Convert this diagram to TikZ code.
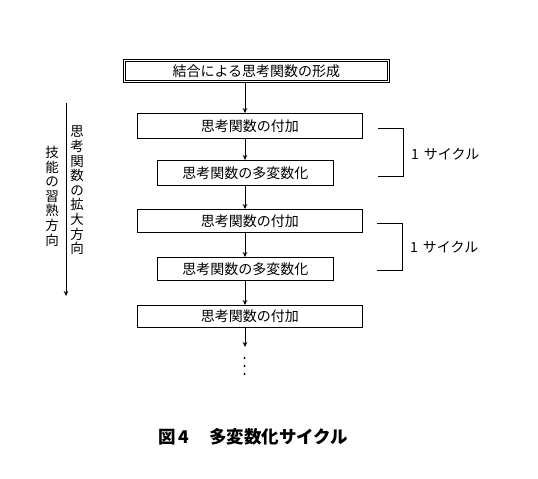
\documentclass[tikz,border=0pt]{standalone}
\usepackage{fontspec}
\setmainfont{Noto Sans CJK JP}
\newfontfamily\capfont{Noto Sans CJK JP}
\usetikzlibrary{arrows.meta}
\begin{document}
\begin{tikzpicture}[x=1pt,y=-1pt,
  box/.style={draw,line width=0.6pt,inner sep=0pt,anchor=north west,font=\fontsize{14}{15}\selectfont},
  arr/.style={line width=0.6pt,-{Stealth[length=5pt,width=4.5pt]}},
  brk/.style={line width=0.6pt},
  lbl/.style={anchor=west,font=\fontsize{14}{15}\selectfont,inner sep=0pt},
  vtext/.style={align=center,inner sep=0pt,font=\fontsize{13.5}{14.6}\selectfont}]
\useasboundingbox (0,0) rectangle (538,479);
% top double box
\draw[line width=0.6pt] (123,59) rectangle (389,82);
\node[box,minimum width=262pt,minimum height=19pt] (top) at (125,61) {結合による思考関数の形成};
% boxes
\node[box,minimum width=225pt,minimum height=25pt] (b1) at (137,113) {思考関数の付加};
\node[box,minimum width=176pt,minimum height=25pt] (b2) at (157,160) {思考関数の多変数化};
\node[box,minimum width=225pt,minimum height=23pt] (b3) at (137,209) {思考関数の付加};
\node[box,minimum width=176pt,minimum height=23pt] (b4) at (157,257) {思考関数の多変数化};
\node[box,minimum width=225pt,minimum height=22pt] (b5) at (137,305) {思考関数の付加};
% arrows
\coordinate (e1) at (245,347);
\draw[arr] (245,82) -- (b1.north -| 245,0);
\draw[arr] (b1.south -| 245,0) -- (b2.north -| 245,0);
\draw[arr] (b2.south -| 245,0) -- (b3.north -| 245,0);
\draw[arr] (b3.south -| 245,0) -- (b4.north -| 245,0);
\draw[arr] (b4.south -| 245,0) -- (b5.north -| 245,0);
\draw[arr] (b5.south -| 245,0) -- (e1);
% dots
\foreach \yy in {358,366,374} \fill (244.5,\yy) circle (1.1pt);
% brackets
\coordinate (k1a) at (378,128); \coordinate (k1b) at (403,128);
\coordinate (k1c) at (403,176); \coordinate (k1d) at (378,176);
\draw[brk] (k1a) -- (k1b) -- (k1c) -- (k1d);
\node[lbl] (c1) at (411,154) {1\hspace{5pt}サイクル};
\coordinate (k2a) at (377,223); \coordinate (k2b) at (402,223);
\coordinate (k2c) at (402,270); \coordinate (k2d) at (377,270);
\draw[brk] (k2a) -- (k2b) -- (k2c) -- (k2d);
\node[lbl] (c2) at (410,247) {1\hspace{5pt}サイクル};
% left arrow and vertical texts
\coordinate (la) at (66,103); \coordinate (lb) at (66,296);
\draw[arr] (la) -- (lb);
\node[vtext,anchor=north] (v1) at (77,126) {思\\考\\関\\数\\の\\拡\\大\\方\\向};
\node[vtext,anchor=north] (v2) at (52,146) {技\\能\\の\\習\\熟\\方\\向};
% caption
\node[anchor=west,inner sep=0pt,font=\capfont\bfseries\fontsize{17.5}{19}\selectfont] (cap) at (158,437) {図\,4\hspace{20pt}多変数化サイクル};
\end{tikzpicture}
\end{document}
